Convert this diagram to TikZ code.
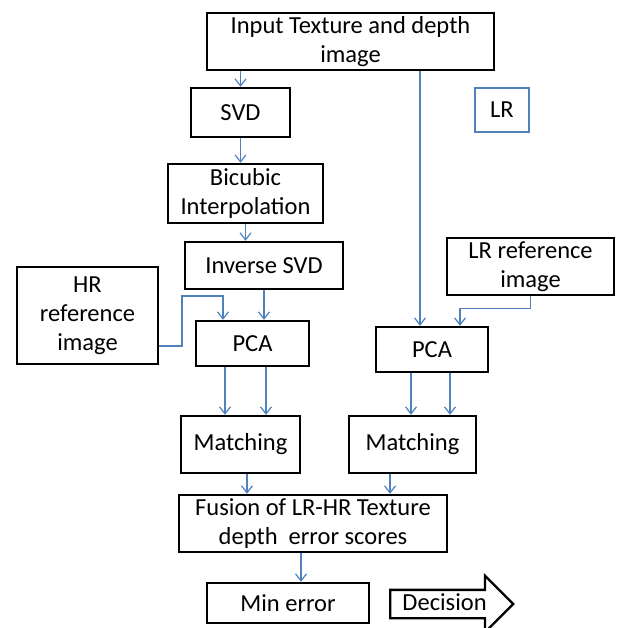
\documentclass[tikz,border=0pt]{standalone}
\usepackage{fontspec}
\setmainfont{Carlito}
\usepackage{xcolor}
\usepackage{tikz}
\usetikzlibrary{shapes.arrows, arrows.meta, positioning}
\definecolor{linkblue}{HTML}{4F81BD}
\tikzstyle{block} = [rectangle, draw, line width=2.4pt, align=center, inner sep=0pt]
\tikzstyle{tag} = [rectangle, draw=linkblue, line width=2.4pt, align=center, inner sep=0pt]
\tikzstyle{arrow} = [->, >={Straight Barb[length=7pt,width=11pt]}, draw=linkblue, line width=1.2pt]

\begin{document}
\begin{tikzpicture}[x=1pt, y=1pt, font=\fontsize{24.5}{29}\selectfont]
\useasboundingbox (0,0) rectangle (618,628);

% left branch, top to bottom
\node[block, minimum width=287pt, minimum height=57pt] (input) at (350.5,586.5) {Input Texture and depth\\image};
\node[block, minimum width=99pt, minimum height=49pt] (svd) at (240.5,515.5) {SVD};
\node[block, minimum width=155pt, minimum height=59pt] (bicubic) at (245.5,434.5) {Bicubic\\Interpolation};
\node[block, minimum width=158pt, minimum height=47pt] (inverse) at (264,362.5) {Inverse SVD};
\node[block, minimum width=141pt, minimum height=97pt] (hrref) at (87.5,312.5) {HR\\reference\\image};
\node[block, minimum width=113pt, minimum height=45pt] (pcaL) at (252.5,284.5) {PCA};
\node[block, minimum width=119pt, minimum height=57pt] (matchL) at (240.5,183.5) {Matching};

% right branch
\node[tag, minimum width=54pt, minimum height=44pt] (lr) at (502,518) {LR};
\node[block, minimum width=167pt, minimum height=57pt] (lrref) at (530.5,361.5) {LR reference\\image};
\node[block, minimum width=112pt, minimum height=45pt] (pcaR) at (432,278.5) {PCA};
\node[block, minimum width=127pt, minimum height=57pt] (matchR) at (412.5,183.5) {Matching};

% fusion and result
\node[block, minimum width=268pt, minimum height=57pt] (fusion) at (313,104.5) {Fusion of LR-HR Texture\\depth~ error scores};
\node[block, minimum width=162pt, minimum height=40pt] (minerr) at (288,25) {Min error};
\node[single arrow, draw, line width=2.4pt, anchor=west, minimum height=123pt, single arrow head extend=14pt,
      text height=17pt, text depth=5pt, inner ysep=2pt, inner xsep=4pt] (decision) at (389,24) {Decision};

% left flow
\draw[arrow] (input.south -| svd.north) -- (svd.north);
\draw[arrow] (svd.south) -- (svd.south |- bicubic.north);
\draw[arrow] (bicubic.south) -- (bicubic.south |- inverse.north);
\draw[arrow] (inverse.south) -- (inverse.south |- pcaL.north);
\coordinate (hrbend) at (182,332);
\draw[arrow] ([yshift=-30.5pt]hrref.east) -| (hrbend) -| ([xshift=-29.5pt]pcaL.north);
\draw[arrow] ([xshift=-27.5pt]pcaL.south) -- ([xshift=-27.5pt]pcaL.south |- matchL.north);
\draw[arrow] ([xshift=13.5pt]pcaL.south) -- ([xshift=13.5pt]pcaL.south |- matchL.north);

% right flow
\draw[arrow] ([xshift=-12pt]pcaR.north |- input.south) -- ([xshift=-12pt]pcaR.north);
\draw[arrow] (lrref.south) -- ++(0,-12) -| ([xshift=28pt]pcaR.north);
\draw[arrow] ([xshift=-21pt]pcaR.south) -- ([xshift=-21pt]pcaR.south |- matchR.north);
\draw[arrow] ([xshift=18pt]pcaR.south) -- ([xshift=18pt]pcaR.south |- matchR.north);

% into fusion and result
\draw[arrow] ([xshift=6.5pt]matchL.south) -- ([xshift=6.5pt]matchL.south |- fusion.north);
\draw[arrow] ([xshift=-22.5pt]matchR.south) -- ([xshift=-22.5pt]matchR.south |- fusion.north);
\draw[arrow] ([xshift=-12pt]fusion.south) -- ([xshift=-12pt]fusion.south |- minerr.north);

\end{tikzpicture}
\end{document}
